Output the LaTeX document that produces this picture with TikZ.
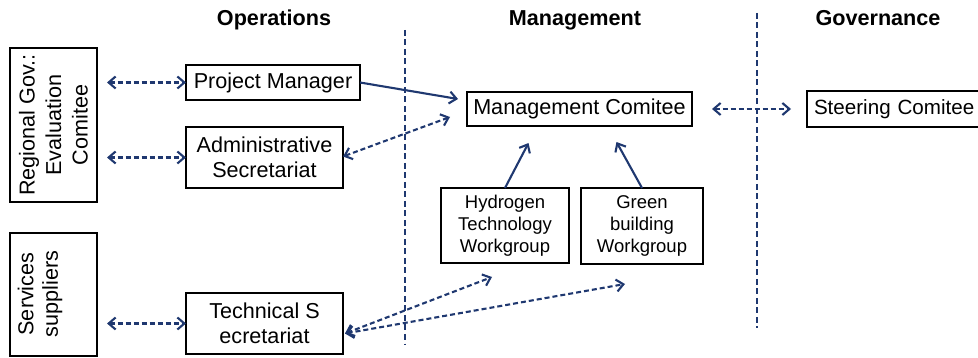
\documentclass[tikz,border=0pt]{standalone}
\usepackage{fontspec}
\setmainfont{Liberation Sans}
\usetikzlibrary{arrows.meta}
\definecolor{navy}{RGB}{31,56,112}

\begin{document}
\begin{tikzpicture}[x=1pt,y=-1pt,
  every node/.style={font=\fontsize{21.6}{25}\selectfont, inner sep=0pt, outer sep=0pt},
  box/.style={draw=black, line width=2.9pt, rectangle, align=center},
  small/.style={font=\fontsize{18.5}{22}\selectfont},
  title/.style={font=\fontsize{21.6}{25}\selectfont\bfseries, anchor=base},
  sideways/.style={rotate=90, align=center},
  link/.style={draw=navy, line width=2.1pt},
  dlink/.style={link, dash pattern=on 5pt off 3pt},
  tip/.style={-{Straight Barb[length=7pt,width=12pt]}},
  bitip/.style={{Straight Barb[length=7pt,width=12pt]}-{Straight Barb[length=7pt,width=12pt]}},
  divider/.style={draw=navy, line width=1.8pt, dash pattern=on 6pt off 3.5pt}
]
\useasboundingbox (0,0) rectangle (978,358);
\clip (0,0) rectangle (978,358);

% column titles
\node[title] (ops)  at (274,26) {Operations};
\node[title] (mgt)  at (575,26) {Management};
\node[title] (gov)  at (878,26) {Governance};

% column separators
\draw[divider] (405,30) -- (405,345);
\draw[divider] (757,13) -- (757,328);

% external parties
\node[box, sideways, minimum width=154pt, minimum height=87pt, font=\fontsize{21.6}{26.5}\selectfont]
  (reg) at (53.5,125) {Regional Gov.:\\Evaluation\\Comitee};
\node[box, minimum width=87pt, minimum height=123pt] (svc) at (53.5,294.5) {};
\node[sideways, font=\fontsize{21.6}{24.5}\selectfont] (svctext) at (40,294) {Services\\suppliers};

% operations
\node[box, minimum width=174pt, minimum height=35pt] (pm)   at (273,82.5)   {Project Manager};
\node[box, minimum width=157pt, minimum height=61pt] (adm)  at (264.5,157.5) {Administrative\\Secretariat};
\node[box, minimum width=157pt, minimum height=61pt] (tech) at (264.5,323.5) {Technical S\\ecretariat};

% management
\node[box, minimum width=225pt, minimum height=34pt] (mc)  at (579.5,109) {Management Comitee};
\node[box, small, minimum width=128pt, minimum height=75pt] (hyd) at (505,225.5) {Hydrogen\\Technology\\Workgroup};
\node[box, small, minimum width=122pt, minimum height=76pt] (grn) at (642,226)   {Green\\building\\Workgroup};

% governance: box runs on past the right edge, text starts just inside it
\node[box, minimum width=184pt, minimum height=36pt, text width=184pt, align=left,
      font=\fontsize{20.6}{24}\selectfont] (steer) at (899,109) {\hspace*{7pt}Steering Comitee};

% connectors
\draw[dlink, bitip, shorten <=10pt] (reg.south |- pm.west) -- (pm.west);
\draw[dlink, bitip, shorten <=10pt] (reg.south |- adm.west) -- (adm.west);
\draw[dlink, bitip, shorten <=10pt] (svc.east |- tech.west) -- (tech.west);

\draw[link, tip] (pm.east) -- ([shift={(-9pt,10pt)}]mc.west);
\draw[dlink, bitip] ([yshift=1pt]adm.east) -- ([shift={(-17pt,-8pt)}]mc.west);

\draw[link, tip] (hyd.north) -- ([shift={(-51pt,-17pt)}]mc.south);
\draw[link, tip] (grn.north) -- ([shift={(37pt,-16pt)}]mc.south);

\draw[dlink, bitip, shorten <=20pt, shorten >=16pt] (mc.east) -- (steer.west);

\draw[dlink, bitip] ([shift={(2pt,-10pt)}]tech.east) -- ([shift={(-13pt,-14pt)}]hyd.south);
\draw[dlink, bitip] ([shift={(2pt,-10pt)}]tech.east) -- ([shift={(-17pt,-20pt)}]grn.south);
\end{tikzpicture}
\end{document}
